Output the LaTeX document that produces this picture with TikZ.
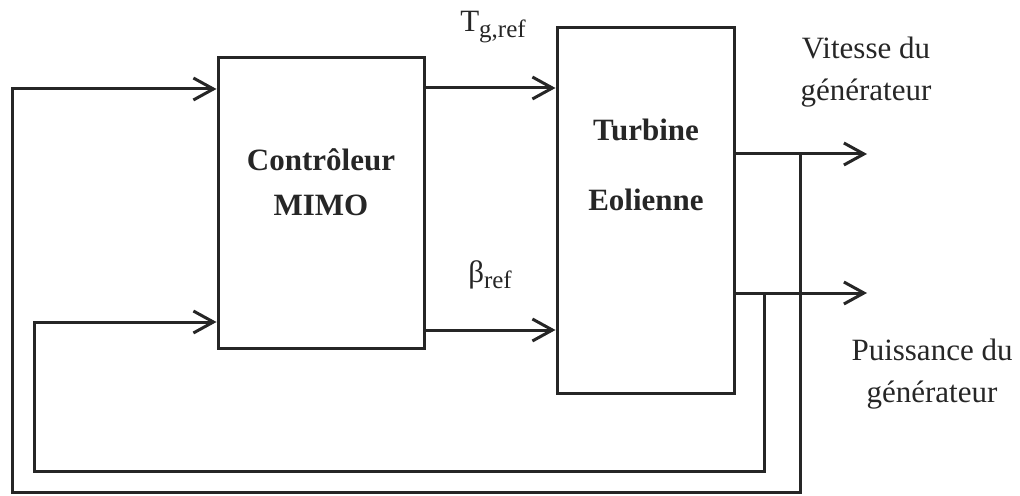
\documentclass[tikz,border=0pt]{standalone}
\usepackage{fontspec}
\setmainfont{Liberation Serif}
\usepackage{tikz}
\usepackage{xcolor}
\usetikzlibrary{positioning, arrows.meta}
\definecolor{lnblack}{RGB}{38, 38, 38}
\newcommand{\subtxt}[1]{\raisebox{-3pt}{\fontsize{12.5pt}{13pt}\selectfont #1}}
\tikzset{
    blocknode/.style={rectangle, draw=lnblack, line width=1.5pt},
    boxtext/.style={align=center, text=lnblack, font=\fontsize{15.5pt}{22.5pt}\selectfont\bfseries},
    sigtext/.style={align=center, text=lnblack, font=\fontsize{15.5pt}{21pt}\selectfont},
    sigline/.style={draw=lnblack, line width=1.5pt, -{Straight Barb[length=10pt, width=11pt]}}
}
\begin{document}
\begin{tikzpicture}[x=0.5pt, y=-0.5pt]
    \useasboundingbox (0,0) rectangle (1020,496);
    % blocs
    \node[blocknode, minimum width=103pt, minimum height=145pt] (ctrl) at (321,203) {};
    \node[blocknode, minimum width=88.5pt, minimum height=182.5pt] (turb) at (645.5,210.5) {};
    \node[boxtext] (ctrltxt) at (321,182) {Contrôleur\\MIMO};
    \node[boxtext, font=\fontsize{15.5pt}{35pt}\selectfont\bfseries] (turbtxt) at (646,165) {Turbine\\Eolienne};
    % points de passage
    \coordinate (tgy) at (490,88);
    \coordinate (bety) at (490,330);
    \coordinate (vout) at (867,154);
    \coordinate (pout) at (867,293);
    \coordinate (vbr) at (800,154);
    \coordinate (pbr) at (764,293);
    \coordinate (vfb) at (12,492);
    \coordinate (pfb) at (34,471);
    \coordinate (vin) at (218,89);
    \coordinate (pin) at (218,322);
    % signaux
    \draw[sigline] (ctrl.east |- tgy) -- (turb.west |- tgy);
    \draw[sigline] (ctrl.east |- bety) -- (turb.west |- bety);
    \draw[sigline] (turb.east |- vout) -- (vout);
    \draw[sigline] (turb.east |- pout) -- (pout);
    % retours
    \draw[sigline] (vbr) |- (vfb) |- (ctrl.west |- vin);
    \draw[sigline] (pbr) |- (pfb) |- (ctrl.west |- pin);
    % etiquettes
    \node[sigtext] (tglbl) at (493,27) {T\subtxt{g,ref}};
    \node[sigtext] (betalbl) at (490,275) {β\subtxt{ref}};
    \node[sigtext] (vitlbl) at (866,72) {Vitesse du\\générateur};
    \node[sigtext] (puislbl) at (932,374) {Puissance du\\générateur};
\end{tikzpicture}
\end{document}
